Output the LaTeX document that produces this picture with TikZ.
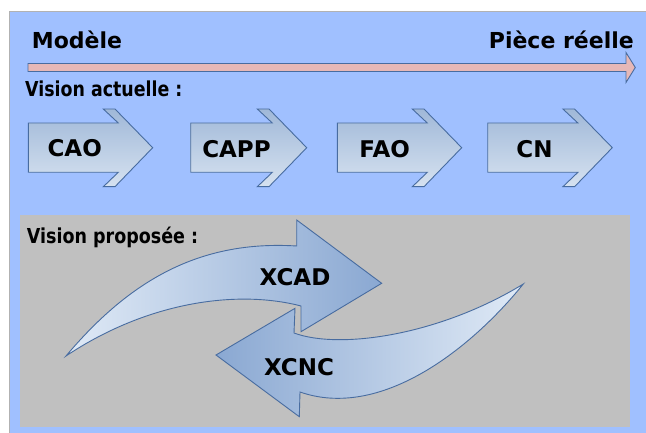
\documentclass[tikz,border=0pt]{standalone}
\usepackage{fontspec}
\usepackage{graphicx}
\setmainfont{DejaVu Sans}
\definecolor{bgblue}{RGB}{160,192,255}
\definecolor{boxgray}{RGB}{192,192,192}
\definecolor{edgeblue}{RGB}{72,108,160}
\definecolor{pinkfill}{RGB}{230,184,183}
\definecolor{atop}{RGB}{160,184,216}
\definecolor{abot}{RGB}{214,226,240}
\definecolor{cdark}{RGB}{138,168,210}
\definecolor{clight}{RGB}{224,234,246}
\newcommand{\chevbox}[2]{%
  \draw[chev] (#1,123) -- ({#2-34.4},123) -- ({#2-49.4},109) -- ({#2-37.7},109)
    -- (#2,147.7) -- ({#2-37.7},186.7) -- ({#2-49.4},186.7) -- ({#2-34.4},172.3)
    -- (#1,172.3) -- cycle;}
\begin{document}
\begin{tikzpicture}[x=1pt,y=-1pt,
  chev/.style={draw=edgeblue, line width=0.9pt, line join=miter, top color=atop, bottom color=abot},
  curv/.style={draw=edgeblue, line width=0.9pt, line join=miter},
  lbl/.style={font=\fontsize{23}{27}\selectfont\bfseries, inner sep=0pt, anchor=base},
  ttl/.style={font=\fontsize{22}{26}\selectfont\bfseries, inner sep=0pt},
  vis/.style={font=\fontsize{20.6}{24}\selectfont\bfseries, inner sep=0pt, anchor=base west}]
\useasboundingbox (0,0) rectangle (646,433);
\fill[white] (0,0) rectangle (646,433);
% background panels
\filldraw[fill=bgblue, draw=gray!60, line width=1pt] (9.5,11.7) rectangle (650,440);
\fill[boxgray] (20,215) rectangle (630,426.7);
% timeline arrow
\draw[fill=pinkfill, draw=edgeblue, line width=0.9pt, line join=miter]
  (28,63.5) -- (626,63.5) -- (626,52.5) -- (635.3,67.5) -- (626,82.5) -- (626,71.5) -- (28,71.5) -- cycle;
\node[ttl, anchor=base west] (modele) at (31.7,49) {Modèle};
\node[ttl, anchor=base east] (piece) at (634,49) {Pièce réelle};
% current vision
\node[vis] (va) at (25,97) {\scalebox{0.845}[1]{Vision actuelle :}};
\chevbox{28.3}{152.7}
\chevbox{190.7}{306.7}
\chevbox{337.3}{461.7}
\chevbox{487.7}{612.3}
\node[lbl] (cao) at (74.7,156.7) {CAO};
\node[lbl] (capp) at (236.5,157.2) {CAPP};
\node[lbl] (fao) at (384.7,157.2) {FAO};
\node[lbl] (cn) at (534.5,157.2) {CN};
% proposed vision
\node[vis] (vp) at (26.7,243.3) {\scalebox{0.85}[1]{Vision proposée :}};
\draw[curv, left color=cdark, right color=clight]
  (523.3,284) .. controls (470,350) and (380,420) .. (300,392)
  -- (299.3,416.7) -- (216,355) -- (295,308.3) -- (294,333)
  .. controls (340,350) and (440,335) .. (523.3,284) -- cycle;
\draw[curv, left color=clight, right color=cdark]
  (66,356) .. controls (130,280) and (200,240) .. (296.7,246)
  -- (296.7,220) -- (381.7,283.3) -- (301,331.7) -- (301,306)
  .. controls (240,290) and (150,300) .. (66,356) -- cycle;
\node[lbl] (xcad) at (295,285) {XCAD};
\node[lbl] (xcnc) at (299,375) {XCNC};
\end{tikzpicture}
\end{document}
